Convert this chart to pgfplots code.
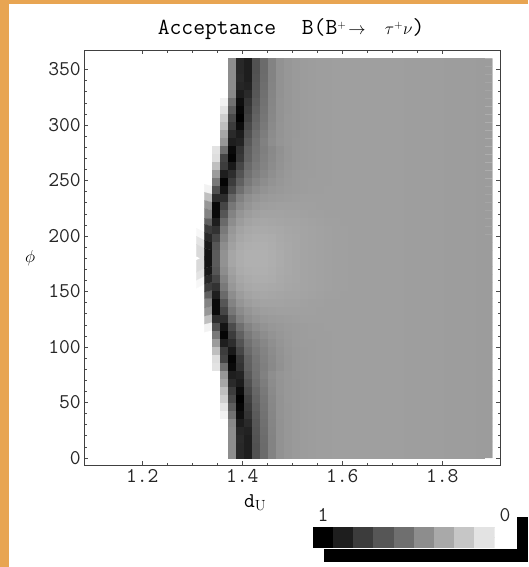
\documentclass[border=0pt]{standalone}
\usepackage{fontspec}
\usepackage{pgfplots}
\usepackage{pgfplotstable}
\pgfplotsset{compat=1.18}
\definecolor{orangeframe}{RGB}{232,165,82}
\pgfplotstableread[row sep=\\]{g\\
255\\255\\255\\255\\140\\40\\30\\80\\106\\130\\145\\150\\153\\155\\156\\157\\157\\158\\158\\158\\158\\158\\158\\158\\158\\158\\157\\157\\157\\157\\157\\156\\156\\156\\156\\155\\155\\
255\\255\\255\\255\\140\\40\\30\\80\\106\\130\\145\\150\\153\\155\\156\\157\\157\\158\\158\\158\\158\\158\\158\\158\\158\\158\\157\\157\\157\\157\\157\\156\\156\\156\\156\\155\\155\\
255\\255\\255\\255\\140\\42\\30\\82\\107\\130\\145\\150\\153\\155\\156\\157\\157\\158\\158\\158\\158\\158\\158\\158\\158\\158\\157\\157\\157\\157\\157\\156\\156\\156\\156\\155\\155\\
255\\255\\255\\255\\140\\38\\34\\84\\109\\131\\145\\150\\153\\155\\156\\157\\157\\158\\158\\158\\158\\158\\158\\158\\158\\158\\157\\157\\157\\157\\157\\156\\156\\156\\156\\155\\155\\
255\\255\\255\\255\\136\\28\\42\\86\\111\\132\\145\\150\\153\\155\\156\\157\\157\\158\\158\\158\\158\\158\\158\\158\\158\\158\\157\\157\\157\\157\\157\\156\\156\\156\\156\\155\\155\\
255\\255\\255\\240\\112\\14\\52\\90\\113\\133\\146\\150\\153\\155\\156\\157\\157\\158\\158\\158\\158\\158\\158\\158\\158\\158\\157\\157\\157\\157\\157\\156\\156\\156\\156\\155\\155\\
255\\255\\255\\225\\92\\6\\58\\94\\115\\134\\146\\150\\153\\155\\156\\157\\157\\158\\158\\158\\158\\158\\158\\158\\158\\158\\157\\157\\157\\157\\157\\156\\156\\156\\156\\155\\155\\
255\\255\\255\\205\\72\\0\\64\\98\\117\\135\\146\\151\\153\\155\\156\\157\\157\\158\\158\\158\\158\\158\\158\\158\\158\\158\\157\\157\\157\\157\\157\\156\\156\\156\\156\\155\\155\\
255\\255\\255\\190\\60\\12\\72\\102\\120\\137\\147\\151\\153\\155\\156\\157\\157\\158\\158\\158\\158\\158\\158\\158\\158\\158\\157\\157\\157\\157\\157\\156\\156\\156\\156\\155\\155\\
255\\255\\255\\165\\42\\28\\80\\108\\124\\139\\147\\151\\153\\155\\156\\157\\157\\158\\158\\158\\158\\158\\158\\158\\158\\158\\157\\157\\157\\157\\157\\156\\156\\156\\156\\155\\155\\
255\\255\\255\\150\\30\\35\\88\\112\\128\\141\\148\\151\\154\\155\\156\\157\\157\\158\\158\\158\\158\\158\\158\\158\\158\\158\\157\\157\\157\\157\\157\\156\\156\\156\\156\\155\\155\\
255\\255\\225\\110\\10\\50\\95\\114\\126\\136\\144\\150\\154\\155\\156\\157\\157\\158\\158\\158\\158\\158\\158\\158\\158\\158\\157\\157\\157\\157\\157\\156\\156\\156\\156\\155\\155\\
255\\255\\220\\68\\4\\55\\97\\116\\128\\137\\145\\150\\154\\155\\156\\157\\157\\158\\158\\158\\158\\158\\158\\158\\158\\158\\157\\157\\157\\157\\157\\156\\156\\156\\156\\155\\155\\
255\\255\\190\\60\\25\\70\\105\\120\\130\\139\\146\\151\\154\\155\\156\\157\\157\\158\\158\\158\\158\\158\\158\\158\\158\\158\\157\\157\\157\\157\\157\\156\\156\\156\\156\\155\\155\\
255\\255\\155\\30\\45\\82\\112\\125\\134\\142\\148\\152\\155\\156\\156\\157\\157\\158\\158\\158\\158\\158\\158\\158\\158\\158\\157\\157\\157\\157\\157\\156\\156\\156\\156\\155\\155\\
255\\255\\120\\5\\60\\95\\120\\132\\140\\146\\150\\153\\155\\156\\157\\157\\157\\158\\158\\158\\158\\158\\158\\158\\158\\158\\157\\157\\157\\157\\157\\156\\156\\156\\156\\155\\155\\
255\\240\\80\\20\\75\\110\\130\\140\\146\\150\\152\\154\\155\\156\\157\\157\\158\\158\\158\\158\\158\\158\\158\\158\\158\\158\\157\\157\\157\\157\\157\\156\\156\\156\\156\\155\\155\\
255\\190\\45\\45\\100\\128\\142\\148\\152\\154\\155\\156\\157\\158\\158\\158\\158\\158\\158\\158\\158\\158\\158\\158\\158\\158\\157\\157\\157\\157\\157\\156\\156\\156\\156\\155\\155\\
255\\150\\10\\70\\118\\138\\148\\154\\157\\158\\159\\159\\159\\159\\159\\158\\158\\158\\158\\158\\158\\158\\158\\158\\158\\158\\157\\157\\157\\157\\157\\156\\156\\156\\156\\155\\155\\
255\\130\\10\\85\\130\\148\\156\\160\\162\\162\\162\\161\\161\\160\\159\\159\\158\\158\\158\\158\\158\\158\\158\\158\\158\\158\\157\\157\\157\\157\\157\\156\\156\\156\\156\\155\\155\\
255\\95\\30\\105\\140\\155\\162\\165\\166\\165\\164\\163\\163\\162\\161\\160\\159\\159\\158\\158\\158\\158\\158\\158\\158\\158\\157\\157\\157\\157\\157\\156\\156\\156\\156\\155\\155\\
255\\60\\50\\120\\150\\162\\167\\169\\169\\168\\167\\165\\164\\163\\162\\161\\160\\159\\159\\158\\158\\158\\158\\158\\158\\158\\157\\157\\157\\157\\157\\156\\156\\156\\156\\155\\155\\
245\\40\\70\\130\\155\\166\\170\\172\\172\\171\\168\\166\\165\\163\\162\\161\\160\\159\\159\\158\\158\\158\\158\\158\\158\\158\\157\\157\\157\\157\\157\\156\\156\\156\\156\\155\\155\\
225\\25\\85\\140\\160\\170\\173\\174\\174\\172\\169\\167\\165\\163\\162\\161\\160\\159\\159\\158\\158\\158\\158\\158\\158\\158\\157\\157\\157\\157\\157\\156\\156\\156\\156\\155\\155\\
215\\20\\90\\145\\165\\172\\175\\175\\175\\173\\170\\167\\165\\163\\162\\161\\160\\159\\159\\158\\158\\158\\158\\158\\158\\158\\157\\157\\157\\157\\157\\156\\156\\156\\156\\155\\155\\
}\halfgrid
\begin{document}
\begin{tikzpicture}[x=1pt,y=1pt]
\path[use as bounding box] (0,0) rectangle (528,567);
\fill[orangeframe] (0,0) rectangle (9,567);
\fill[orangeframe] (0,563) rectangle (528,567);
\fill[black] (324,5) rectangle (528,18);
\fill[black] (516.7,5) rectangle (528,49.7);
\begin{axis}[
  at={(84.3pt,101.7pt)}, anchor=south west,
  width=415.7pt, height=414.8pt, scale only axis,
  xmin=1.084, xmax=1.9154, ymin=-6.6, ymax=367.2,
  axis line style={color=black!75, line width=0.7pt},
  xtick={1.2,1.4,1.6,1.8}, minor x tick num=3,
  ytick={0,50,100,150,200,250,300,350}, minor y tick num=4,
  xticklabels={1.2,1.4,1.6,1.8},
  yticklabels={0,50,100,150,200,250,300,350},
  tick align=inside, major tick length=4pt, minor tick length=2.5pt,
  tick style={color=black!70, line width=0.6pt},
  tick label style={font=\ttfamily\fontsize{21}{21}\selectfont, color=black!85},
  xticklabel style={yshift=-1pt}, yticklabel style={xshift=0pt},
  title={\ttfamily\fontsize{23}{23}\selectfont\bfseries\mdseries Acceptance\ \ \kern2pt B(B{\fontsize{16}{16}\selectfont$^{+}\!\to\;\;\;\tau^{+}\nu$})},
  title style={at={(0.4975,1)}, anchor=center, yshift=15pt},
  xlabel={\ttfamily\fontsize{21}{21}\selectfont d$_{\mathrm{U}}$},
  xlabel style={at={(0.411,0)}, anchor=center, yshift=-37.7pt},
  ylabel={\fontsize{19}{19}\selectfont$\phi$},
  ylabel style={at={(-0.13,0.5)}, anchor=center, rotate=-90},
  colormap={pure gray}{gray(0cm)=(0); gray(1cm)=(1)},
  point meta min=0, point meta max=255,
  axis on top,
]
\addplot[matrix plot*, shader=faceted, faceted color=mapped color, line width=0.15pt, mesh/cols=37, point meta=\thisrow{g}] table[x index=0, y index=0,
  x expr={1.316+0.016*mod(\coordindex,37)},
  y expr={356.4-7.2*floor(\coordindex/37)}]{\halfgrid};
\addplot[matrix plot*, shader=faceted, faceted color=mapped color, line width=0.15pt, mesh/cols=37, point meta=\thisrow{g}] table[x index=0, y index=0,
  x expr={1.316+0.016*mod(\coordindex,37)},
  y expr={3.6+7.2*floor(\coordindex/37)}]{\halfgrid};
\end{axis}
\begin{axis}[
  at={(312.7pt,19.7pt)}, anchor=south west,
  width=182pt, height=20pt, scale only axis,
  xmin=-0.5, xmax=8.5, ymin=-0.5, ymax=1.5,
  hide axis,
  colormap={pure gray}{gray(0cm)=(0); gray(1cm)=(1)},
  point meta min=0, point meta max=255,
]
\addplot[matrix plot*, shader=faceted, faceted color=mapped color, line width=0.15pt, mesh/cols=9, point meta=explicit] coordinates {
 (0,0) [0] (1,0) [30] (2,0) [60] (3,0) [85] (4,0) [110] (5,0) [140] (6,0) [168] (7,0) [197] (8,0) [225]
 (0,1) [0] (1,1) [30] (2,1) [60] (3,1) [85] (4,1) [110] (5,1) [140] (6,1) [168] (7,1) [197] (8,1) [225]
};
\end{axis}
\node[font=\ttfamily\fontsize{21}{21}\selectfont, color=black!85] at (323,52) {1};
\node[font=\ttfamily\fontsize{21}{21}\selectfont, color=black!85] at (505,52) {0};
\end{tikzpicture}
\end{document}
